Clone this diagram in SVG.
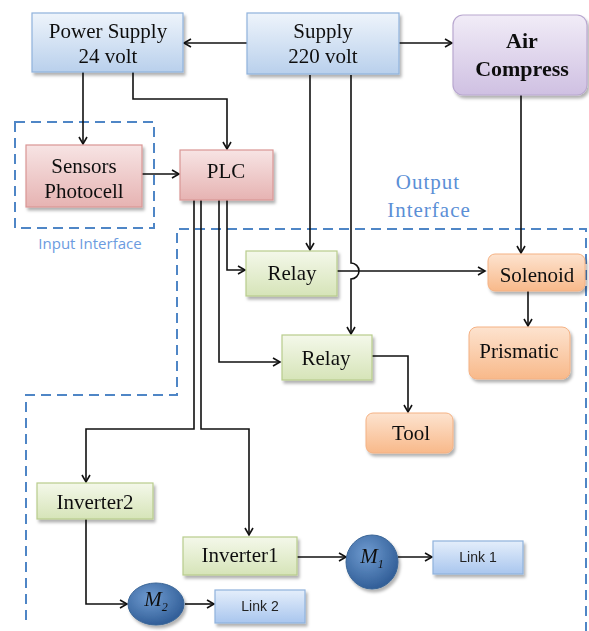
<svg xmlns="http://www.w3.org/2000/svg" width="589" height="631" viewBox="0 0 589 631">
<style>
.t{font-family:"Liberation Serif","Times New Roman",serif;font-size:21px;fill:#111;text-anchor:middle}
.b{font-weight:bold;font-size:22px}
.s{font-family:"Liberation Sans",Arial,sans-serif;font-size:14px;fill:#222;text-anchor:middle}
.ii{font-family:"Open Sans","Liberation Sans",sans-serif;font-size:15px;fill:#6b9be0;text-anchor:middle}
.lb{fill:#5b8fd6}
.c{fill:none;stroke:#111;stroke-width:1.6}
.a{marker-end:url(#ah)}
.d{fill:none;stroke:#4f86c6;stroke-width:2;stroke-dasharray:10 6}
.blue{fill:url(#gBlue);stroke:#8fb2dc;stroke-width:1.2}
.pink{fill:url(#gPink);stroke:#d99694;stroke-width:1.2}
.green{fill:url(#gGreen);stroke:#b8cc8c;stroke-width:1.2}
.orange{fill:url(#gOrange);stroke:#f4b183;stroke-width:1}
.purple{fill:url(#gPurple);stroke:#b9a8d0;stroke-width:1.2}
.link{fill:url(#gLink);stroke:#8fb2dc;stroke-width:1.2}
.m{fill:url(#gM);stroke:#3a6596;stroke-width:1}
.sh{filter:url(#shadow)}
</style>
<defs>
<marker id="ah" markerWidth="10" markerHeight="10" refX="8" refY="5" orient="auto" markerUnits="userSpaceOnUse">
<path d="M1,1 L8,5 L1,9" fill="none" stroke="#111" stroke-width="1.6"/>
</marker>
<filter id="shadow" x="-10%" y="-10%" width="125%" height="130%">
<feDropShadow dx="2" dy="3" stdDeviation="1.5" flood-color="#000" flood-opacity="0.3"/>
</filter>
<linearGradient id="gBlue" x1="0" y1="0" x2="0" y2="1"><stop offset="0" stop-color="#eef4fb"/><stop offset="1" stop-color="#b9d0ec"/></linearGradient>
<linearGradient id="gPink" x1="0" y1="0" x2="0" y2="1"><stop offset="0" stop-color="#f7e4e4"/><stop offset="1" stop-color="#e6b3b2"/></linearGradient>
<linearGradient id="gGreen" x1="0" y1="0" x2="0" y2="1"><stop offset="0" stop-color="#f4f8ea"/><stop offset="1" stop-color="#d6e4b8"/></linearGradient>
<linearGradient id="gOrange" x1="0" y1="0" x2="0" y2="1"><stop offset="0" stop-color="#fde3cf"/><stop offset="1" stop-color="#f8b98a"/></linearGradient>
<linearGradient id="gPurple" x1="0" y1="0" x2="0" y2="1"><stop offset="0" stop-color="#f1ecf7"/><stop offset="1" stop-color="#cfc0e2"/></linearGradient>
<linearGradient id="gLink" x1="0" y1="0" x2="0" y2="1"><stop offset="0" stop-color="#e4eefb"/><stop offset="1" stop-color="#a9c6ee"/></linearGradient>
<radialGradient id="gM" cx="0.4" cy="0.35" r="0.7"><stop offset="0" stop-color="#6f9bd0"/><stop offset="1" stop-color="#2d5a94"/></radialGradient>
</defs>

<g id="interfaces">
<rect class="d" x="15" y="122" width="139" height="106"/>
<text class="ii" x="90" y="249">Input Interface</text>
<path class="d" d="M26,620 V395 H177 V229 H586 V631"/>
<text class="t lb" x="428" y="189" letter-spacing="1">Output</text>
<text class="t lb" x="429" y="217" letter-spacing="1">Interface</text>
</g>

<g id="connectors">
<path class="c a" d="M247,43 H184"/>
<path class="c a" d="M399,43 H452"/>
<path class="c a" d="M83,72 V144"/>
<path class="c a" d="M133,72 V99 H227 V149"/>
<path class="c a" d="M142,174 H179"/>
<path class="c a" d="M227,200 V270 H245"/>
<path class="c a" d="M219,200 V362 H280"/>
<path class="c a" d="M194,200 V429 H86 V482"/>
<path class="c a" d="M201,200 V429 H249 V535"/>
<path class="c a" d="M310,75 V250"/>
<path class="c a" d="M351,75 V263 A8,8 0 0 1 351,279 V334"/>
<path class="c a" d="M337,271 H485"/>
<path class="c a" d="M521,95 V253"/>
<path class="c a" d="M528,291 V326"/>
<path class="c a" d="M372,356 H408 V412"/>
<path class="c a" d="M86,519 V604 H127"/>
<path class="c a" d="M185,604 H214"/>
<path class="c a" d="M297,557 H346"/>
<path class="c a" d="M398,557 H432"/>
</g>

<g id="power-supply" class="sh">
<rect class="blue" x="32" y="13" width="151" height="59"/>
<text class="t" x="108" y="38">Power Supply</text>
<text class="t" x="108" y="63">24 volt</text>
</g>
<g id="supply-220" class="sh">
<rect class="blue" x="247" y="13" width="152" height="61"/>
<text class="t" x="323" y="38">Supply</text>
<text class="t" x="323" y="63">220 volt</text>
</g>
<g id="air-compress" class="sh">
<rect class="purple" x="453" y="15" width="134" height="80" rx="10"/>
<text class="t b" x="522" y="48">Air</text>
<text class="t b" x="522" y="76">Compress</text>
</g>
<g id="sensors" class="sh">
<rect class="pink" x="26" y="145" width="116" height="62"/>
<text class="t" x="84" y="173">Sensors</text>
<text class="t" x="84" y="198">Photocell</text>
</g>
<g id="plc" class="sh">
<rect class="pink" x="180" y="150" width="93" height="50"/>
<text class="t" x="226" y="178">PLC</text>
</g>
<g id="relay1" class="sh">
<rect class="green" x="246" y="251" width="91" height="45"/>
<text class="t" x="292" y="280">Relay</text>
</g>
<g id="relay2" class="sh">
<rect class="green" x="282" y="335" width="90" height="45"/>
<text class="t" x="326" y="365">Relay</text>
</g>
<g id="solenoid" class="sh">
<rect class="orange" x="488" y="254" width="97" height="37" rx="7"/>
<text class="t" x="537" y="282">Solenoid</text>
</g>
<g id="prismatic" class="sh">
<rect class="orange" x="469" y="327" width="101" height="52" rx="8"/>
<text class="t" x="519" y="358">Prismatic</text>
</g>
<g id="tool" class="sh">
<rect class="orange" x="366" y="413" width="87" height="40" rx="7"/>
<text class="t" x="411" y="440">Tool</text>
</g>
<g id="inverter2" class="sh">
<rect class="green" x="37" y="483" width="116" height="36"/>
<text class="t" x="95" y="509">Inverter2</text>
</g>
<g id="inverter1" class="sh">
<rect class="green" x="183" y="537" width="114" height="38"/>
<text class="t" x="240" y="562">Inverter1</text>
</g>
<g id="m1" class="sh">
<ellipse class="m" cx="372" cy="562" rx="26" ry="27"/>
<text class="t" x="372" y="563" font-style="italic" font-size="18">M<tspan font-size="12" dy="5">1</tspan></text>
</g>
<g id="m2" class="sh">
<ellipse class="m" cx="156" cy="604" rx="28" ry="21"/>
<text class="t" x="156" y="606" font-style="italic" font-size="18">M<tspan font-size="12" dy="5">2</tspan></text>
</g>
<g id="link1" class="sh">
<rect class="link" x="433" y="541" width="90" height="33"/>
<text class="s" x="478" y="562">Link 1</text>
</g>
<g id="link2" class="sh">
<rect class="link" x="215" y="590" width="90" height="33"/>
<text class="s" x="260" y="611">Link 2</text>
</g>
</svg>
